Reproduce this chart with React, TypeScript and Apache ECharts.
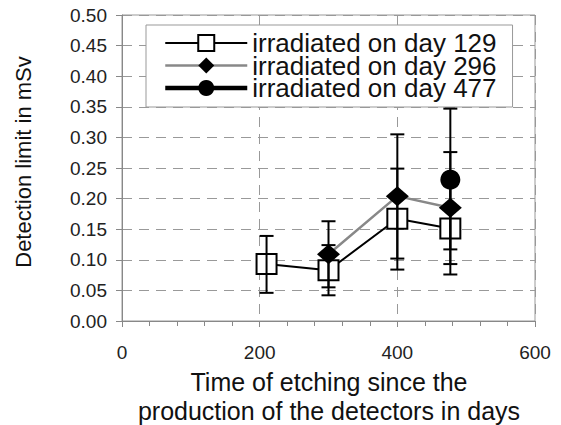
import React, { useEffect, useRef } from "react";
import * as echarts from "echarts";

const xTicks = [0, 200, 400, 600];
const yTicks = [0, 0.05, 0.1, 0.15, 0.2, 0.25, 0.3, 0.35, 0.4, 0.45, 0.5];

const seriesNames = ["irradiated on day 129", "irradiated on day 296", "irradiated on day 477"];

const days129 = [210, 300, 400, 477];
const limit129 = [0.093, 0.083, 0.167, 0.151];
const low129 = [0.046, 0.042, 0.084, 0.076];
const high129 = [0.139, 0.124, 0.249, 0.225];

const days296 = [300, 400, 477];
const limit296 = [0.109, 0.204, 0.185];
const low296 = [0.055, 0.102, 0.093];
const high296 = [0.163, 0.305, 0.276];

const days477 = [477];
const limit477 = [0.231];
const low477 = [0.117];
const high477 = [0.347];

const xTitle = "Time of etching since the\nproduction of the detectors in days";
const yTitle = "Detection limit in mSv";

const FONT = "'Liberation Sans', Arial, Helvetica, sans-serif";

function pts(xs: number[], ys: number[]) {
  return xs.map((x, i) => [x, ys[i]]);
}
function errs(xs: number[], lo: number[], hi: number[]) {
  return xs.map((x, i) => [x, lo[i], hi[i]]);
}

export default function App() {
  const ref = useRef<HTMLDivElement>(null);
  useEffect(() => {
    document.body.style.margin = "0";
    if (!ref.current) return;
    const chart = echarts.init(ref.current, undefined, { renderer: "svg" });

    const errorRender = (params: any, api: any) => {
      const x = api.value(0);
      const lo = api.value(1);
      const hi = api.value(2);
      const pLo = api.coord([x, lo]);
      const pHi = api.coord([x, hi]);
      const hw = 7;
      const st = { stroke: "#000", lineWidth: 2 };
      return {
        type: "group",
        children: [
          { type: "line", shape: { x1: pLo[0], y1: pLo[1], x2: pHi[0], y2: pHi[1] }, style: st },
          { type: "line", shape: { x1: pLo[0] - hw, y1: pLo[1], x2: pLo[0] + hw, y2: pLo[1] }, style: st },
          { type: "line", shape: { x1: pHi[0] - hw, y1: pHi[1], x2: pHi[0] + hw, y2: pHi[1] }, style: st },
        ],
      };
    };

    const option: any = {
      animation: false,
      backgroundColor: "#fff",
      grid: {
        left: 122,
        right: 26,
        top: 15,
        bottom: 104,
        show: true,
        borderColor: "#999",
        borderWidth: 1,
        backgroundColor: "transparent",
      },
      xAxis: {
        type: "value",
        min: xTicks[0],
        max: xTicks[xTicks.length - 1],
        interval: 200,
        axisLine: { show: true, lineStyle: { color: "#888", width: 1 } },
        axisTick: { show: true, length: 6, lineStyle: { color: "#888" } },
        minorTick: { show: true, splitNumber: 5, length: 5, lineStyle: { color: "#888" } },
        splitLine: { show: true, lineStyle: { color: "#999", type: [10, 7], width: 1 } },
        axisLabel: { fontSize: 19, color: "#222", margin: 22, fontFamily: FONT },
      },
      yAxis: {
        type: "value",
        min: yTicks[0],
        max: yTicks[yTicks.length - 1],
        interval: 0.05,
        axisLine: { show: true, lineStyle: { color: "#888", width: 1 } },
        axisTick: { show: true, length: 6, lineStyle: { color: "#888" } },
        splitLine: { show: true, lineStyle: { color: "#999", type: [10, 7], width: 1 } },
        axisLabel: {
          fontSize: 19,
          color: "#222",
          margin: 15,
          fontFamily: FONT,
          formatter: (v: number) => v.toFixed(2),
        },
      },
      legend: {
        orient: "vertical",
        left: 146,
        top: 25,
        padding: [5, 16, 6, 17],
        itemGap: -3.5,
        itemWidth: 82,
        itemHeight: 20,
        backgroundColor: "#fff",
        borderColor: "#999",
        borderWidth: 1,
        borderRadius: 0,
        textStyle: { fontSize: 26, color: "#111", fontFamily: FONT },
        data: [
          {
            name: seriesNames[0],
            itemStyle: { color: "#fff", borderColor: "#000", borderWidth: 2 },
            lineStyle: { color: "#000", width: 2 },
          },
          {
            name: seriesNames[1],
            itemStyle: { color: "#000", borderWidth: 0 },
            lineStyle: { color: "#888", width: 2.5 },
          },
          {
            name: seriesNames[2],
            itemStyle: { color: "#000", borderWidth: 0 },
            lineStyle: { color: "#000", width: 4.5 },
          },
        ],
      },
      graphic: [
        {
          type: "text",
          x: 329,
          y: 367,
          style: {
            text: xTitle,
            fontSize: 25,
            lineHeight: 29,
            fontFamily: FONT,
            fill: "#111",
            textAlign: "center",
            textVerticalAlign: "top",
          },
        },
        {
          type: "text",
          x: 23,
          y: 162,
          rotation: Math.PI / 2,
          style: {
            text: yTitle,
            fontSize: 22,
            fontFamily: FONT,
            fill: "#111",
            textAlign: "center",
            textVerticalAlign: "middle",
          },
        },
      ],
      series: [
        {
          name: seriesNames[0],
          type: "line",
          data: pts(days129, limit129),
          symbol: "rect",
          symbolSize: 20,
          z: 3,
          itemStyle: { color: "#fff", borderColor: "#000", borderWidth: 2 },
          lineStyle: { color: "#000", width: 2 },
        },
        {
          name: seriesNames[1],
          type: "line",
          data: pts(days296, limit296),
          symbol: "diamond",
          symbolSize: [23, 20],
          z: 4,
          itemStyle: { color: "#000" },
          lineStyle: { color: "#888", width: 2.5 },
        },
        {
          name: seriesNames[2],
          type: "line",
          data: pts(days477, limit477),
          symbol: "circle",
          symbolSize: 20,
          z: 5,
          itemStyle: { color: "#000" },
          lineStyle: { color: "#000", width: 4.5 },
        },
        {
          type: "custom",
          renderItem: errorRender,
          data: errs(days129, low129, high129),
          z: 6,
          silent: true,
        },
        {
          type: "custom",
          renderItem: errorRender,
          data: errs(days296, low296, high296),
          z: 6,
          silent: true,
        },
        {
          type: "custom",
          renderItem: errorRender,
          data: errs(days477, low477, high477),
          z: 6,
          silent: true,
        },
      ],
    };
    chart.setOption(option);
    return () => chart.dispose();
  }, []);
  return (
    <div
      ref={ref}
      style={{ width: 561, height: 425, position: "fixed", left: 0, top: 0 }}
    />
  );
}
